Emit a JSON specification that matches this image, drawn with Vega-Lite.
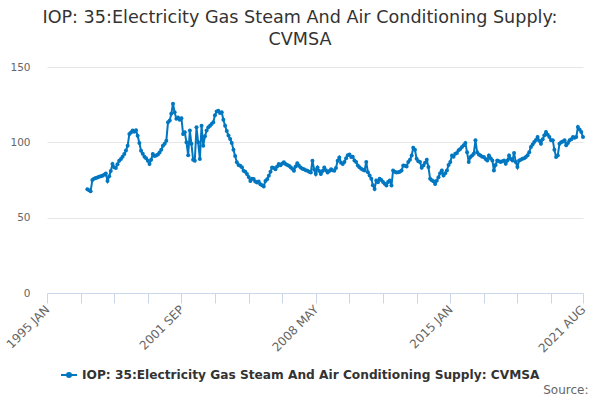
{
  "$schema": "https://vega.github.io/schema/vega-lite/v6.json",
  "width": 536,
  "height": 226,
  "autosize": {"type": "none"},
  "padding": {"left": 47, "top": 67, "right": 17, "bottom": 107},
  "background": "white",
  "title": {
    "text": ["IOP: 35:Electricity Gas Steam And Air Conditioning Supply:", "CVMSA"],
    "font": "DejaVu Sans",
    "fontSize": 17.6,
    "fontWeight": "normal",
    "color": "#333333",
    "anchor": "middle",
    "dx": -15,
    "offset": 13,
    "lineHeight": 22
  },
  "config": {"view": {"stroke": null}},
  "data": {
    "values": [
      {"date": "1997-01-01", "value": 68.9}, {"date": "1997-02-01", "value": 68.2}, {"date": "1997-03-01", "value": 67.5}, {"date": "1997-04-01", "value": 75.0},
      {"date": "1997-05-01", "value": 75.8}, {"date": "1997-06-01", "value": 76.3}, {"date": "1997-07-01", "value": 76.7}, {"date": "1997-08-01", "value": 77.2},
      {"date": "1997-09-01", "value": 77.5}, {"date": "1997-10-01", "value": 77.8}, {"date": "1997-11-01", "value": 78.5}, {"date": "1997-12-01", "value": 79.3},
      {"date": "1998-01-01", "value": 74.4}, {"date": "1998-02-01", "value": 77.5}, {"date": "1998-03-01", "value": 81.0}, {"date": "1998-04-01", "value": 85.6},
      {"date": "1998-05-01", "value": 83.5}, {"date": "1998-06-01", "value": 83.0}, {"date": "1998-07-01", "value": 85.5}, {"date": "1998-08-01", "value": 87.8},
      {"date": "1998-09-01", "value": 89.0}, {"date": "1998-10-01", "value": 90.5}, {"date": "1998-11-01", "value": 92.2}, {"date": "1998-12-01", "value": 94.5},
      {"date": "1999-01-01", "value": 97.8}, {"date": "1999-02-01", "value": 105.6}, {"date": "1999-03-01", "value": 106.5}, {"date": "1999-04-01", "value": 107.8},
      {"date": "1999-05-01", "value": 107.0}, {"date": "1999-06-01", "value": 108.0}, {"date": "1999-07-01", "value": 104.4}, {"date": "1999-08-01", "value": 99.5},
      {"date": "1999-09-01", "value": 94.4}, {"date": "1999-10-01", "value": 92.5}, {"date": "1999-11-01", "value": 90.5}, {"date": "1999-12-01", "value": 89.5},
      {"date": "2000-01-01", "value": 87.8}, {"date": "2000-02-01", "value": 85.6}, {"date": "2000-03-01", "value": 88.5}, {"date": "2000-04-01", "value": 92.2},
      {"date": "2000-05-01", "value": 91.0}, {"date": "2000-06-01", "value": 91.3}, {"date": "2000-07-01", "value": 92.0}, {"date": "2000-08-01", "value": 93.3},
      {"date": "2000-09-01", "value": 95.0}, {"date": "2000-10-01", "value": 97.8}, {"date": "2000-11-01", "value": 99.0}, {"date": "2000-12-01", "value": 101.0},
      {"date": "2001-01-01", "value": 113.3}, {"date": "2001-02-01", "value": 114.5}, {"date": "2001-03-01", "value": 118.9}, {"date": "2001-04-01", "value": 125.6},
      {"date": "2001-05-01", "value": 120.0}, {"date": "2001-06-01", "value": 115.6}, {"date": "2001-07-01", "value": 116.5}, {"date": "2001-08-01", "value": 115.0},
      {"date": "2001-09-01", "value": 116.0}, {"date": "2001-10-01", "value": 105.6}, {"date": "2001-11-01", "value": 106.7}, {"date": "2001-12-01", "value": 100.0},
      {"date": "2002-01-01", "value": 91.5}, {"date": "2002-02-01", "value": 107.8}, {"date": "2002-03-01", "value": 99.0}, {"date": "2002-04-01", "value": 88.5},
      {"date": "2002-05-01", "value": 87.8}, {"date": "2002-06-01", "value": 110.0}, {"date": "2002-07-01", "value": 100.0}, {"date": "2002-08-01", "value": 88.9},
      {"date": "2002-09-01", "value": 111.0}, {"date": "2002-10-01", "value": 97.8}, {"date": "2002-11-01", "value": 104.0}, {"date": "2002-12-01", "value": 107.8},
      {"date": "2003-01-01", "value": 110.0}, {"date": "2003-02-01", "value": 111.0}, {"date": "2003-03-01", "value": 112.2}, {"date": "2003-04-01", "value": 113.3},
      {"date": "2003-05-01", "value": 118.0}, {"date": "2003-06-01", "value": 120.5}, {"date": "2003-07-01", "value": 121.0}, {"date": "2003-08-01", "value": 119.5},
      {"date": "2003-09-01", "value": 120.0}, {"date": "2003-10-01", "value": 115.0}, {"date": "2003-11-01", "value": 111.0}, {"date": "2003-12-01", "value": 107.5},
      {"date": "2004-01-01", "value": 104.5}, {"date": "2004-02-01", "value": 102.2}, {"date": "2004-03-01", "value": 99.5}, {"date": "2004-04-01", "value": 95.0},
      {"date": "2004-05-01", "value": 91.0}, {"date": "2004-06-01", "value": 86.7}, {"date": "2004-07-01", "value": 85.0}, {"date": "2004-08-01", "value": 84.5},
      {"date": "2004-09-01", "value": 83.5}, {"date": "2004-10-01", "value": 81.1}, {"date": "2004-11-01", "value": 80.5}, {"date": "2004-12-01", "value": 78.9},
      {"date": "2005-01-01", "value": 77.0}, {"date": "2005-02-01", "value": 74.4}, {"date": "2005-03-01", "value": 75.8}, {"date": "2005-04-01", "value": 75.6},
      {"date": "2005-05-01", "value": 74.0}, {"date": "2005-06-01", "value": 73.3}, {"date": "2005-07-01", "value": 74.0}, {"date": "2005-08-01", "value": 72.2},
      {"date": "2005-09-01", "value": 71.5}, {"date": "2005-10-01", "value": 70.7}, {"date": "2005-11-01", "value": 74.4}, {"date": "2005-12-01", "value": 75.5},
      {"date": "2006-01-01", "value": 77.8}, {"date": "2006-02-01", "value": 80.5}, {"date": "2006-03-01", "value": 83.3}, {"date": "2006-04-01", "value": 83.0},
      {"date": "2006-05-01", "value": 82.2}, {"date": "2006-06-01", "value": 84.0}, {"date": "2006-07-01", "value": 85.6}, {"date": "2006-08-01", "value": 84.8},
      {"date": "2006-09-01", "value": 86.0}, {"date": "2006-10-01", "value": 86.7}, {"date": "2006-11-01", "value": 85.6}, {"date": "2006-12-01", "value": 85.0},
      {"date": "2007-01-01", "value": 84.4}, {"date": "2007-02-01", "value": 83.5}, {"date": "2007-03-01", "value": 82.5}, {"date": "2007-04-01", "value": 81.1},
      {"date": "2007-05-01", "value": 84.0}, {"date": "2007-06-01", "value": 86.2}, {"date": "2007-07-01", "value": 84.5}, {"date": "2007-08-01", "value": 83.3},
      {"date": "2007-09-01", "value": 82.5}, {"date": "2007-10-01", "value": 82.2}, {"date": "2007-11-01", "value": 81.5}, {"date": "2007-12-01", "value": 81.1},
      {"date": "2008-01-01", "value": 80.5}, {"date": "2008-02-01", "value": 80.0}, {"date": "2008-03-01", "value": 87.8}, {"date": "2008-04-01", "value": 82.0},
      {"date": "2008-05-01", "value": 78.9}, {"date": "2008-06-01", "value": 83.3}, {"date": "2008-07-01", "value": 81.0}, {"date": "2008-08-01", "value": 78.9},
      {"date": "2008-09-01", "value": 81.0}, {"date": "2008-10-01", "value": 83.3}, {"date": "2008-11-01", "value": 81.5}, {"date": "2008-12-01", "value": 80.0},
      {"date": "2009-01-01", "value": 81.0}, {"date": "2009-02-01", "value": 82.2}, {"date": "2009-03-01", "value": 81.5}, {"date": "2009-04-01", "value": 81.1},
      {"date": "2009-05-01", "value": 83.0}, {"date": "2009-06-01", "value": 87.8}, {"date": "2009-07-01", "value": 90.0}, {"date": "2009-08-01", "value": 86.5},
      {"date": "2009-09-01", "value": 85.6}, {"date": "2009-10-01", "value": 87.0}, {"date": "2009-11-01", "value": 89.5}, {"date": "2009-12-01", "value": 91.5},
      {"date": "2010-01-01", "value": 92.0}, {"date": "2010-02-01", "value": 90.2}, {"date": "2010-03-01", "value": 90.5}, {"date": "2010-04-01", "value": 88.0},
      {"date": "2010-05-01", "value": 87.0}, {"date": "2010-06-01", "value": 84.7}, {"date": "2010-07-01", "value": 83.5}, {"date": "2010-08-01", "value": 82.4},
      {"date": "2010-09-01", "value": 81.8}, {"date": "2010-10-01", "value": 81.3}, {"date": "2010-11-01", "value": 86.9}, {"date": "2010-12-01", "value": 80.2},
      {"date": "2011-01-01", "value": 78.0}, {"date": "2011-02-01", "value": 75.8}, {"date": "2011-03-01", "value": 71.5}, {"date": "2011-04-01", "value": 69.1},
      {"date": "2011-05-01", "value": 74.7}, {"date": "2011-06-01", "value": 73.5}, {"date": "2011-07-01", "value": 75.8}, {"date": "2011-08-01", "value": 75.0},
      {"date": "2011-09-01", "value": 73.6}, {"date": "2011-10-01", "value": 72.5}, {"date": "2011-11-01", "value": 71.3}, {"date": "2011-12-01", "value": 73.6},
      {"date": "2012-01-01", "value": 74.7}, {"date": "2012-02-01", "value": 71.3}, {"date": "2012-03-01", "value": 81.3}, {"date": "2012-04-01", "value": 80.5},
      {"date": "2012-05-01", "value": 80.0}, {"date": "2012-06-01", "value": 80.2}, {"date": "2012-07-01", "value": 80.5}, {"date": "2012-08-01", "value": 81.3},
      {"date": "2012-09-01", "value": 84.7}, {"date": "2012-10-01", "value": 84.5}, {"date": "2012-11-01", "value": 84.0}, {"date": "2012-12-01", "value": 86.9},
      {"date": "2013-01-01", "value": 88.5}, {"date": "2013-02-01", "value": 91.3}, {"date": "2013-03-01", "value": 96.4}, {"date": "2013-04-01", "value": 95.1},
      {"date": "2013-05-01", "value": 89.1}, {"date": "2013-06-01", "value": 87.5}, {"date": "2013-07-01", "value": 86.9}, {"date": "2013-08-01", "value": 83.1},
      {"date": "2013-09-01", "value": 84.7}, {"date": "2013-10-01", "value": 86.5}, {"date": "2013-11-01", "value": 88.4}, {"date": "2013-12-01", "value": 83.6},
      {"date": "2014-01-01", "value": 75.8}, {"date": "2014-02-01", "value": 74.8}, {"date": "2014-03-01", "value": 74.2}, {"date": "2014-04-01", "value": 72.4},
      {"date": "2014-05-01", "value": 74.5}, {"date": "2014-06-01", "value": 76.9}, {"date": "2014-07-01", "value": 79.5}, {"date": "2014-08-01", "value": 81.3},
      {"date": "2014-09-01", "value": 78.0}, {"date": "2014-10-01", "value": 79.5}, {"date": "2014-11-01", "value": 81.3}, {"date": "2014-12-01", "value": 85.0},
      {"date": "2015-01-01", "value": 86.9}, {"date": "2015-02-01", "value": 91.3}, {"date": "2015-03-01", "value": 90.5}, {"date": "2015-04-01", "value": 92.4},
      {"date": "2015-05-01", "value": 93.0}, {"date": "2015-06-01", "value": 94.7}, {"date": "2015-07-01", "value": 95.5}, {"date": "2015-08-01", "value": 96.9},
      {"date": "2015-09-01", "value": 98.0}, {"date": "2015-10-01", "value": 99.6}, {"date": "2015-11-01", "value": 93.5}, {"date": "2015-12-01", "value": 86.9},
      {"date": "2016-01-01", "value": 90.2}, {"date": "2016-02-01", "value": 91.3}, {"date": "2016-03-01", "value": 92.5}, {"date": "2016-04-01", "value": 101.3},
      {"date": "2016-05-01", "value": 93.5}, {"date": "2016-06-01", "value": 92.0}, {"date": "2016-07-01", "value": 91.3}, {"date": "2016-08-01", "value": 90.5},
      {"date": "2016-09-01", "value": 90.2}, {"date": "2016-10-01", "value": 89.0}, {"date": "2016-11-01", "value": 88.0}, {"date": "2016-12-01", "value": 91.3},
      {"date": "2017-01-01", "value": 89.5}, {"date": "2017-02-01", "value": 88.0}, {"date": "2017-03-01", "value": 81.3}, {"date": "2017-04-01", "value": 85.0},
      {"date": "2017-05-01", "value": 88.0}, {"date": "2017-06-01", "value": 87.5}, {"date": "2017-07-01", "value": 86.9}, {"date": "2017-08-01", "value": 87.5},
      {"date": "2017-09-01", "value": 88.0}, {"date": "2017-10-01", "value": 85.8}, {"date": "2017-11-01", "value": 88.0}, {"date": "2017-12-01", "value": 91.3},
      {"date": "2018-01-01", "value": 89.0}, {"date": "2018-02-01", "value": 88.0}, {"date": "2018-03-01", "value": 92.9}, {"date": "2018-04-01", "value": 87.0},
      {"date": "2018-05-01", "value": 83.6}, {"date": "2018-06-01", "value": 88.0}, {"date": "2018-07-01", "value": 88.5}, {"date": "2018-08-01", "value": 89.1},
      {"date": "2018-09-01", "value": 89.5}, {"date": "2018-10-01", "value": 90.2}, {"date": "2018-11-01", "value": 91.5}, {"date": "2018-12-01", "value": 93.5},
      {"date": "2019-01-01", "value": 96.9}, {"date": "2019-02-01", "value": 98.5}, {"date": "2019-03-01", "value": 100.2}, {"date": "2019-04-01", "value": 101.5},
      {"date": "2019-05-01", "value": 103.5}, {"date": "2019-06-01", "value": 101.0}, {"date": "2019-07-01", "value": 99.1}, {"date": "2019-08-01", "value": 102.0},
      {"date": "2019-09-01", "value": 104.7}, {"date": "2019-10-01", "value": 106.9}, {"date": "2019-11-01", "value": 105.0}, {"date": "2019-12-01", "value": 103.5},
      {"date": "2020-01-01", "value": 101.3}, {"date": "2020-02-01", "value": 101.3}, {"date": "2020-03-01", "value": 95.0}, {"date": "2020-04-01", "value": 90.2},
      {"date": "2020-05-01", "value": 91.3}, {"date": "2020-06-01", "value": 99.1}, {"date": "2020-07-01", "value": 100.0}, {"date": "2020-08-01", "value": 100.5},
      {"date": "2020-09-01", "value": 101.3}, {"date": "2020-10-01", "value": 98.0}, {"date": "2020-11-01", "value": 99.5}, {"date": "2020-12-01", "value": 101.3},
      {"date": "2021-01-01", "value": 102.0}, {"date": "2021-02-01", "value": 103.5}, {"date": "2021-03-01", "value": 103.0}, {"date": "2021-04-01", "value": 103.5},
      {"date": "2021-05-01", "value": 110.2}, {"date": "2021-06-01", "value": 108.5}, {"date": "2021-07-01", "value": 106.9}, {"date": "2021-08-01", "value": 103.5}
    ]
  },
  "mark": {
    "type": "line",
    "strokeWidth": 2,
    "point": {"filled": true, "size": 16}
  },
  "encoding": {
    "x": {
      "field": "date",
      "type": "temporal",
      "scale": {
        "type": "utc",
        "nice": false,
        "domain": [
          {"year": 1995, "month": 1, "date": 1, "utc": true},
          {"year": 2021, "month": 8, "date": 1, "utc": true}
        ]
      },
      "axis": {
        "title": "Source:",
        "titleFont": "DejaVu Sans",
        "titleFontSize": 12,
        "titleFontWeight": "normal",
        "titleColor": "#666666",
        "titleAnchor": "end",
        "titleAlign": "right",
        "titleBaseline": "alphabetic",
        "titleX": 541,
        "titleY": 100,
        "values": [
          {"year": 1995, "month": 1, "date": 1, "utc": true},
          {"year": 1996, "month": 9, "date": 1, "utc": true},
          {"year": 1998, "month": 5, "date": 1, "utc": true},
          {"year": 2000, "month": 1, "date": 1, "utc": true},
          {"year": 2001, "month": 9, "date": 1, "utc": true},
          {"year": 2003, "month": 5, "date": 1, "utc": true},
          {"year": 2005, "month": 1, "date": 1, "utc": true},
          {"year": 2006, "month": 9, "date": 1, "utc": true},
          {"year": 2008, "month": 5, "date": 1, "utc": true},
          {"year": 2010, "month": 1, "date": 1, "utc": true},
          {"year": 2011, "month": 9, "date": 1, "utc": true},
          {"year": 2013, "month": 5, "date": 1, "utc": true},
          {"year": 2015, "month": 1, "date": 1, "utc": true},
          {"year": 2016, "month": 9, "date": 1, "utc": true},
          {"year": 2018, "month": 5, "date": 1, "utc": true},
          {"year": 2020, "month": 1, "date": 1, "utc": true},
          {"year": 2021, "month": 8, "date": 1, "utc": true}
        ],
        "labelExpr": "indexof(['1995 JAN','2001 SEP','2008 MAY','2015 JAN','2021 AUG'], upper(utcFormat(datum.value, '%Y %b'))) >= 0 ? upper(utcFormat(datum.value, '%Y %b')) : ''",
        "labelAngle": -45,
        "labelAlign": "right",
        "labelBaseline": "middle",
        "labelFont": "DejaVu Sans",
        "labelFontSize": 12,
        "labelColor": "#666666",
        "labelPadding": 4,
        "labelOverlap": false,
        "labelBound": false,
        "labelFlush": false,
        "grid": false,
        "domainColor": "#ccd6eb",
        "tickColor": "#ccd6eb",
        "tickSize": 10
      }
    },
    "y": {
      "field": "value",
      "type": "quantitative",
      "scale": {"domain": [0, 150], "nice": false},
      "axis": {
        "title": null,
        "values": [0, 50, 100, 150],
        "domain": false,
        "ticks": false,
        "gridColor": "#e6e6e6",
        "labelFont": "DejaVu Sans",
        "labelFontSize": 10.5,
        "labelColor": "#666666",
        "labelPadding": 17
      }
    },
    "color": {
      "datum": "IOP: 35:Electricity Gas Steam And Air Conditioning Supply: CVMSA",
      "scale": {"range": ["#0077c0"]},
      "legend": {
        "title": null,
        "orient": "none",
        "legendX": 13,
        "legendY": 299,
        "padding": 0,
        "symbolType": "M-1,0L1,0M-0.25,0A0.25,0.25,0,1,1,0.25,0A0.25,0.25,0,1,1,-0.25,0Z",
        "symbolSize": 256,
        "symbolStrokeWidth": 2,
        "symbolFillColor": "#0077c0",
        "symbolStrokeColor": "#0077c0",
        "labelOffset": 4,
        "labelFont": "DejaVu Sans",
        "labelFontSize": 12.2,
        "labelFontWeight": "bold",
        "labelColor": "#333333",
        "labelLimit": 600
      }
    }
  }
}
